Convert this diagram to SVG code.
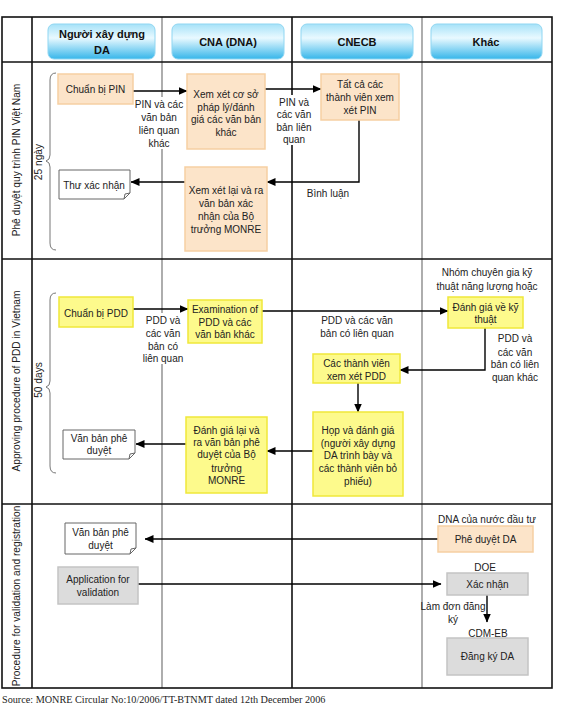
<svg xmlns="http://www.w3.org/2000/svg" width="563" height="710" viewBox="0 0 563 710">
<defs>
<linearGradient id="hdr" x1="0" y1="0" x2="0" y2="1">
<stop offset="0" stop-color="#a6e2f8"/>
<stop offset="0.4" stop-color="#e9f9ff"/>
<stop offset="1" stop-color="#36b6ea"/>
</linearGradient>
<marker id="ah" markerWidth="9" markerHeight="8" refX="8.5" refY="4" orient="auto" markerUnits="userSpaceOnUse">
<path d="M0,0 L9,4 L0,8 z" fill="#000"/>
</marker>
</defs>
<style>
text{font-family:"Liberation Sans",Arial,sans-serif;font-size:10px;fill:#222;text-anchor:middle}
.hd{font-weight:bold;font-size:11px;fill:#111}
.rot{font-size:10.2px}
.hbox{fill:url(#hdr);stroke:#8fd6f2;stroke-width:1}
.peach{fill:#fce4c9;stroke:#f6cfa2;stroke-width:1.5}
.yel{fill:#fdfa8c;stroke:#efe83a;stroke-width:1.5}
.gray{fill:#dcdcdc;stroke:#c4c4c4;stroke-width:1.5}
.doc{fill:#fff;stroke:#666;stroke-width:1}
.lane{fill:none;stroke:#111;stroke-width:1.6}
.lane2{fill:none;stroke:#777;stroke-width:1.2}
.brace{fill:none;stroke:#777;stroke-width:1}
.ca{fill:none;stroke:#000;stroke-width:1.4;marker-end:url(#ah)}
.bg{fill:#fff}
.src{font-family:"Liberation Serif","Times New Roman",serif;font-size:10.2px;text-anchor:start;fill:#222}
</style>
<rect width="563" height="710" fill="#fff"/>
<g id="grid">
<line class="lane2" x1="162" y1="17" x2="162" y2="688"/>
<line class="lane2" x1="422" y1="17" x2="422" y2="688"/>
<line class="lane" x1="32" y1="17" x2="32" y2="688"/>
<line class="lane" x1="292" y1="17" x2="292" y2="688"/>
<line class="lane" x1="2" y1="62" x2="552" y2="62"/>
<line class="lane" x1="2" y1="259" x2="552" y2="259"/>
<line class="lane" x1="2" y1="504" x2="552" y2="504"/>
<rect class="lane" x="2" y="17" width="550" height="671"/>
</g>
<g id="headers">
<g id="h1"><rect class="hbox" x="48" y="24" width="107" height="35" rx="6"/><text class="hd" x="102" y="38">Người xây dựng</text><text class="hd" x="102" y="54">DA</text></g>
<g id="h2"><rect class="hbox" x="172" y="24" width="112" height="35" rx="6"/><text class="hd" x="228" y="46">CNA (DNA)</text></g>
<g id="h3"><rect class="hbox" x="301" y="24" width="112" height="35" rx="6"/><text class="hd" x="357" y="46">CNECB</text></g>
<g id="h4"><rect class="hbox" x="431" y="24" width="111" height="35" rx="6"/><text class="hd" x="486" y="46">Khác</text></g>
</g>
<g id="sections">
<text class="rot" transform="translate(20,160) rotate(-90)">Phê duyệt quy trình PIN Việt Nam</text>
<text class="rot" transform="translate(20,381) rotate(-90)">Approving procedure of PDD in Vietnam</text>
<text class="rot" transform="translate(20,596) rotate(-90)">Procedure for validation and registration</text>
<text class="rot" transform="translate(42,162) rotate(-90)">25 ngày</text>
<text class="rot" transform="translate(42,380) rotate(-90)">50 days</text>
<path class="brace" d="M56,73 Q50,73 50,80 L50,155 Q50,160 46,161 Q50,162 50,167 L50,243 Q50,250 56,250"/>
<path class="brace" d="M56,293 Q50,293 50,300 L50,381 Q50,386 46,387 Q50,388 50,393 L50,466 Q50,473 56,473"/>
</g>
<g id="connectors">
<line class="ca" x1="133" y1="91" x2="187" y2="91"/>
<line class="ca" x1="265" y1="89" x2="321" y2="89"/>
<polyline class="ca" points="359,120 359,182 267,182"/>
<line class="ca" x1="185" y1="182" x2="131" y2="182"/>
<line class="ca" x1="133" y1="309" x2="188" y2="309"/>
<line class="ca" x1="262" y1="311" x2="448" y2="311"/>
<polyline class="ca" points="485,328 485,370 400,370"/>
<line class="ca" x1="358" y1="383" x2="358" y2="412"/>
<line class="ca" x1="313" y1="451" x2="267" y2="451"/>
<line class="ca" x1="186" y1="444" x2="136" y2="444"/>
<line class="ca" x1="438" y1="539" x2="145" y2="539"/>
<line class="ca" x1="138" y1="584" x2="441" y2="584"/>
<line class="ca" x1="487" y1="595" x2="487" y2="622"/>
</g>
<g id="labels">
<rect class="bg" x="141" y="97" width="37" height="52"/>
<text x="159" y="107.5">PIN và các</text><text x="159" y="120.5">văn bản</text><text x="159" y="133.5">liên quan</text><text x="159" y="146.5">khác</text>
<rect class="bg" x="277" y="95" width="33" height="50"/>
<text x="294" y="105.5">PIN và</text><text x="294" y="117.5">các văn</text><text x="294" y="130.5">bản liên</text><text x="294" y="142.5">quan</text>
<text x="328" y="196.5">Bình luận</text>
<rect class="bg" x="143" y="313" width="40" height="51"/>
<text x="163" y="323.5">PDD và</text><text x="163" y="336.5">các văn</text><text x="163" y="349.5">bản có</text><text x="163" y="361.5">liên quan</text>
<text x="357" y="323.5">PDD và các văn</text><text x="357" y="336.5">bản có liên quan</text>
<text x="487" y="275.5">Nhóm chuyên gia kỹ</text><text x="487" y="289.5">thuật năng lượng hoặc</text>
<text x="515" y="341.5">PDD và</text><text x="515" y="355.5">các văn</text><text x="515" y="367.5">bản có liên</text><text x="515" y="380.5">quan khác</text>
<text x="487" y="522.5">DNA của nước đầu tư</text>
<text x="485" y="570.5">DOE</text>
<text x="453" y="609.5">Làm đơn đăng</text><text x="453" y="622.5">ký</text>
<text x="488" y="636.5">CDM-EB</text>
</g>
<g id="n_pin_prep"><rect class="peach" x="58" y="74" width="75" height="30"/><text x="95.5" y="93">Chuẩn bị PIN</text></g>
<g id="n_cna_review"><rect class="peach" x="187" y="74" width="78" height="75"/><text x="226" y="97.5">Xem xét cơ sở</text><text x="226" y="110.5">pháp lý/đánh</text><text x="226" y="122.5">giá các văn bản</text><text x="226" y="135.5">khác</text></g>
<g id="n_cnecb_review"><rect class="peach" x="321" y="74" width="78" height="46"/><text x="360" y="87.5">Tất cả các</text><text x="360" y="100.5">thành viên xem</text><text x="360" y="113.5">xét PIN</text></g>
<g id="n_cna_confirm"><rect class="peach" x="185" y="167" width="82" height="84"/><text x="226" y="193.5">Xem xét lại và ra</text><text x="226" y="207">văn bản xác</text><text x="226" y="220">nhận của Bộ</text><text x="226" y="232.5">trưởng MONRE</text></g>
<g id="n_letter"><path class="doc" d="M59,170 H130 V193 L124,199 H59 Z M124,199 L125,194 L130,193"/><text x="94" y="188.5">Thư xác nhận</text></g>
<g id="n_pdd_prep"><rect class="yel" x="59" y="297" width="74" height="30"/><text x="96" y="316.5">Chuẩn bị PDD</text></g>
<g id="n_cna_exam"><rect class="yel" x="188" y="300" width="74" height="43"/><text x="225" y="312.5">Examination of</text><text x="225" y="325.5">PDD và các</text><text x="225" y="337.5">văn bản khác</text></g>
<g id="n_tech"><rect class="yel" x="448" y="297" width="75" height="31"/><text x="485.5" y="310.5">Đánh giá về kỹ</text><text x="485.5" y="322.5">thuật</text></g>
<g id="n_members"><rect class="yel" x="313" y="354" width="87" height="29"/><text x="356.5" y="366.5">Các thành viên</text><text x="356.5" y="379.5">xem xét PDD</text></g>
<g id="n_meeting"><rect class="yel" x="313" y="412" width="90" height="84"/><text x="358" y="433.5">Họp và đánh giá</text><text x="358" y="446.5">(người xây dựng</text><text x="358" y="458.5">DA trình bày và</text><text x="358" y="471.5">các thành viên bỏ</text><text x="358" y="484.5">phiếu)</text></g>
<g id="n_cna_approve"><rect class="yel" x="186" y="417" width="81" height="76"/><text x="226.5" y="433.5">Đánh giá lại và</text><text x="226.5" y="445.5">ra văn bản phê</text><text x="226.5" y="457.5">duyệt của Bộ</text><text x="226.5" y="471.5">trưởng</text><text x="226.5" y="483.5">MONRE</text></g>
<g id="n_doc_pdd"><path class="doc" d="M63,430 H135 V453 L129,459 H63 Z M129,459 L130,454 L135,453"/><text x="99" y="441.5">Văn bản phê</text><text x="99" y="453.5">duyệt</text></g>
<g id="n_dna_approve"><rect class="peach" x="438" y="526" width="95" height="26"/><text x="485.5" y="542.5">Phê duyệt DA</text></g>
<g id="n_doc_reg"><path class="doc" d="M65,523 H136 V548 L130,554 H65 Z M130,554 L131,549 L136,548"/><text x="100.5" y="535.5">Văn bản phê</text><text x="100.5" y="548.5">duyệt</text></g>
<g id="n_app"><rect class="gray" x="58" y="567" width="80" height="37"/><text x="98" y="582.5">Application for</text><text x="98" y="595.5">validation</text></g>
<g id="n_validate"><rect class="gray" x="447" y="573" width="81" height="22"/><text x="487.5" y="587.5">Xác nhận</text></g>
<g id="n_register"><rect class="gray" x="447" y="638" width="81" height="37"/><text x="487.5" y="659.5">Đăng ký DA</text></g>
<text class="src" x="2" y="703">Source: MONRE Circular No:10/2006/TT-BTNMT dated 12th December 2006</text>
</svg>
